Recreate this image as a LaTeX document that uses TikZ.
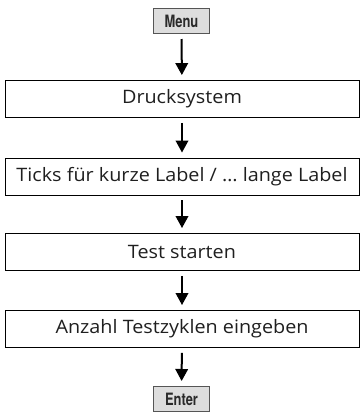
\documentclass[tikz,border=0pt]{standalone}
\usepackage{fontspec}
\setmainfont[FakeStretch=1.07]{Open Sans}
\newfontfamily\btnfont[FakeStretch=0.76]{TeX Gyre Heros}
\usetikzlibrary{arrows.meta}
\definecolor{btnfill}{HTML}{DDDDDD}
\definecolor{btnline}{HTML}{555555}
\definecolor{btntext}{HTML}{2A2A2A}
\tikzset{
  stepbox/.style={draw=black, line width=0.9pt, minimum width=354pt, minimum height=37pt, inner sep=0pt, text=black!88, font=\fontsize{18.5}{21}\selectfont},
  btn/.style={draw=btnline, fill=btnfill, line width=1pt, minimum width=56pt, minimum height=25pt, inner sep=0pt, text=btntext, font=\btnfont\bfseries\fontsize{17}{19}\selectfont},
  flow/.style={line width=2pt, -{Triangle[width=12.5pt,length=12pt]}, shorten <=5pt, shorten >=5pt}
}
\begin{document}
\begin{tikzpicture}[x=1pt,y=1pt]
\useasboundingbox (0,0) rectangle (363,-413);
\node[btn] (menu) at (181.5,-21) {Menu};
\node[stepbox] (b1) at (182,-99) {Drucksystem};
\node[stepbox] (b2) at (182,-176.5) {Ticks für kurze Label / … lange Label};
\node[stepbox] (b3) at (182,-252) {Test starten};
\node[stepbox] (b4) at (182,-329) {Anzahl Testzyklen eingeben};
\node[btn] (enter) at (181.5,-399) {Enter};
\draw[flow] (menu) -- (b1);
\draw[flow] (b1) -- (b2);
\draw[flow] (b2) -- (b3);
\draw[flow] (b3) -- (b4);
\draw[flow] (b4) -- (enter);
\end{tikzpicture}
\end{document}
